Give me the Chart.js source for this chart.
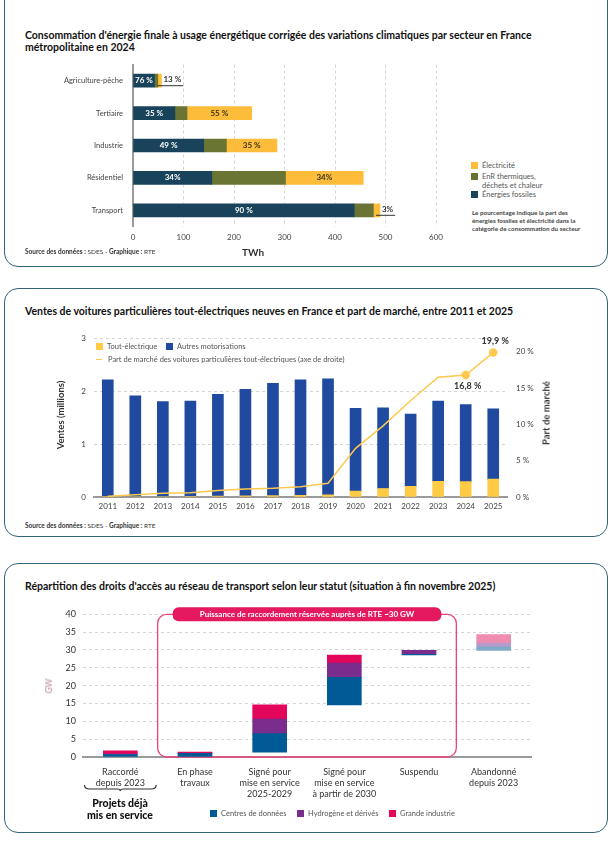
<!DOCTYPE html>
<html lang="fr">
<head>
<meta charset="utf-8">
<script src="https://cdn.jsdelivr.net/npm/chart.js@4.4.1/dist/chart.umd.min.js"></script>
<style>
  body { margin: 0; background: #fff; font-family: Lato, sans-serif; }
  .page { position: relative; width: 614px; height: 843px; overflow: hidden; }
  .card { position: absolute; left: 4px; width: 604px; border: 1.5px solid #33647a; border-radius: 14px; box-sizing: border-box; }
  .title { position: absolute; left: 25px; font-weight: 700; font-size: 10.5px; line-height: 12px; color: #111; white-space: nowrap; }
  .src { position: absolute; left: 25px; font-size: 6.5px; color: #333; white-space: nowrap; }
  .abs { position: absolute; white-space: nowrap; }
  .leg { position: absolute; font-size: 7.5px; color: #555; white-space: nowrap; line-height: 9px; }
  .sq { display: inline-block; width: 7px; height: 7px; vertical-align: -1px; margin-right: 4px; }
  .rot { position: absolute; transform: translate(-50%, -50%) rotate(-90deg); white-space: nowrap; font-weight: 700; }
  canvas { position: absolute; }
</style>
</head>
<body>
<div class="page">
  <!-- Carte 1 -->
  <div class="card" style="top:-14px;height:281px"></div>
  <div class="title" style="top:29px">Consommation d'énergie finale à usage énergétique corrigée des variations climatiques par secteur en France<br>métropolitaine en 2024</div>
  <canvas id="c1" width="460" height="200" style="left:0;top:50px"></canvas>
  <div class="abs" style="left:242px;top:246px;font-size:10px;font-weight:700;color:#333">TWh</div>
  <div class="src" style="top:248px"><b>Source des données :</b> SDES - <b>Graphique :</b> RTE</div>
  <div class="leg" style="left:471px;top:161px"><span class="sq" style="background:#fdbd3a"></span>Électricité</div>
  <div class="leg" style="left:471px;top:172px"><span class="sq" style="background:#6a7534"></span>EnR thermiques,<br><span style="margin-left:11px">déchets et chaleur</span></div>
  <div class="leg" style="left:471px;top:190px"><span class="sq" style="background:#18435b"></span>Énergies fossiles</div>
  <div class="leg" style="left:472px;top:209px;font-size:6.3px;line-height:7.8px;color:#444;font-weight:700">Le pourcentage indique la part des<br>énergies fossiles et électricité dans la<br>catégorie de consommation du secteur</div>

  <!-- Carte 2 -->
  <div class="card" style="top:288px;height:249px"></div>
  <div class="title" style="top:305px">Ventes de voitures particulières tout-électriques neuves en France et part de marché, entre 2011 et 2025</div>
  <canvas id="c2" width="510" height="190" style="left:50px;top:325px"></canvas>
  <div class="rot" style="left:60px;top:415px;font-size:9.5px;color:#333">Ventes (millions)</div>
  <div class="rot" style="left:546px;top:413px;font-size:9.5px;color:#333">Part de marché</div>
  <div class="leg" style="left:96px;top:342px"><span class="sq" style="background:#ffcb45"></span>Tout-électrique</div>
  <div class="leg" style="left:166px;top:342px"><span class="sq" style="background:#1f4aa0"></span>Autres motorisations</div>
  <div class="leg" style="left:96px;top:355px"><span style="display:inline-block;width:6px;height:1.5px;background:#fdc94e;vertical-align:2px;margin-right:6px"></span>Part de marché des voitures particulières tout-électriques (axe de droite)</div>
  <div class="src" style="top:522px"><b>Source des données :</b> SDES - <b>Graphique :</b> RTE</div>

  <!-- Carte 3 -->
  <div class="card" style="top:563px;height:270px"></div>
  <div class="title" style="top:580px">Répartition des droits d'accès au réseau de transport selon leur statut (situation à fin novembre 2025)</div>
  <canvas id="c3" width="494" height="207" style="left:40px;top:600px"></canvas>
  <div class="rot" style="left:49px;top:686px;font-size:8.5px;color:#c9a3b3">GW</div>
  <div class="abs" style="left:120px;top:797px;transform:translateX(-50%);text-align:center;font-size:10.5px;line-height:12px;font-weight:900;color:#111">Projets déjà<br>mis en service</div>
  <div class="leg" style="left:210px;top:809px"><span class="sq" style="background:#005a96"></span>Centres de données</div>
  <div class="leg" style="left:297px;top:809px"><span class="sq" style="background:#7b2d8e"></span>Hydrogène et dérivés</div>
  <div class="leg" style="left:389px;top:809px"><span class="sq" style="background:#e3075b"></span>Grande industrie</div>
</div>

<script>
Chart.defaults.font.family = 'Lato';
Chart.defaults.color = '#555';
Chart.defaults.animation = false;
Chart.defaults.plugins.legend.display = false;
Chart.defaults.plugins.tooltip.enabled = false;

// ---- Graphique 1 : consommation par secteur (TWh)
const sectors = ['Agriculture-pêche', 'Tertiaire', 'Industrie', 'Résidentiel', 'Transport'];
const fossiles = [42.5, 83, 140, 156, 438];
const enrChaleur = [6.5, 24, 45, 146, 38];
const electricite = [7.3, 128, 100, 154, 13];
const fossileLabels = ['76 %', '35 %', '49 %', '34%', '90 %'];
const elecLabels = ['13 %', '55 %', '35 %', '34%', '3%'];

// ---- Graphique 2 : ventes de voitures (millions) et part de marché (%)
const years = ['2011', '2012', '2013', '2014', '2015', '2016', '2017', '2018', '2019', '2020', '2021', '2022', '2023', '2024', '2025'];
const ventesElec = [0.004, 0.009, 0.009, 0.011, 0.017, 0.022, 0.025, 0.031, 0.043, 0.111, 0.162, 0.203, 0.298, 0.291, 0.34];
const ventesAutres = [2.22, 1.91, 1.80, 1.81, 1.93, 2.02, 2.13, 2.19, 2.20, 1.57, 1.53, 1.37, 1.52, 1.46, 1.33];
const partMarche = [0.1, 0.3, 0.5, 0.6, 0.9, 1.1, 1.2, 1.4, 1.9, 6.7, 9.8, 13.3, 16.5, 16.8, 19.9];
const partLabels = [null, null, null, null, null, null, null, null, null, null, null, null, null, '16,8 %', '19,9 %'];

// ---- Graphique 3 : droits d'accès (GW), en cascade
const statuts = [['Raccordé', 'depuis 2023'], ['En phase', 'travaux'], ['Signé pour', 'mise en service', '2025-2029'],
  ['Signé pour', 'mise en service', 'à partir de 2030'], ['Suspendu'], ['Abandonné', 'depuis 2023']];
const depart = [0, 0, 1.35, 14.6, 28.6, 29.9];
const centresDonnees = [0.7, 1.0, 5.2, 7.7, 0.2, 1.0];
const hydrogene = [0.15, 0, 4.1, 4.0, 1.1, 1.0];
const grandeIndustrie = [0.85, 0.35, 4.0, 2.3, 0, 2.4];

// Chart 1
const pctLabels = {
  id: 'pctLabels',
  afterDatasetsDraw(chart) {
    const ctx = chart.ctx;
    const fos = chart.getDatasetMeta(0).data;
    const ele = chart.getDatasetMeta(2).data;
    ctx.save();
    ctx.font = 'bold 8px Lato';
    ctx.textBaseline = 'middle';
    ctx.textAlign = 'center';
    fos.forEach((bar, i) => {
      ctx.fillStyle = '#fff';
      ctx.fillText(fossileLabels[i], (bar.x + bar.base) / 2, bar.y);
    });
    ele.forEach((bar, i) => {
      if (bar.x - bar.base > 30) {
        ctx.textAlign = 'center';
        ctx.fillStyle = '#3a3320';
        ctx.fillText(elecLabels[i], (bar.x + bar.base) / 2, bar.y);
      } else {
        ctx.textAlign = 'left';
        ctx.fillStyle = '#333';
        ctx.fillText(elecLabels[i], bar.x + 2, bar.y - 1);
        const w = ctx.measureText(elecLabels[i]).width;
        ctx.strokeStyle = '#333';
        ctx.lineWidth = 1;
        ctx.beginPath();
        ctx.moveTo(bar.x - 4, bar.y + 5);
        ctx.lineTo(bar.x + 4 + w, bar.y + 5);
        ctx.stroke();
      }
    });
    ctx.restore();
  }
};

new Chart(document.getElementById('c1'), {
  type: 'bar',
  data: {
    labels: sectors,
    datasets: [
      { label: 'Énergies fossiles', data: fossiles, backgroundColor: '#18435b' },
      { label: 'EnR thermiques, déchets et chaleur', data: enrChaleur, backgroundColor: '#6a7534' },
      { label: 'Électricité', data: electricite, backgroundColor: '#fdbd3a' }
    ]
  },
  options: {
    responsive: false,
    indexAxis: 'y',
    layout: { padding: { top: 11.5, right: 24 } },
    datasets: { bar: { barThickness: 13 } },
    scales: {
      x: {
        stacked: true, min: 0, max: 600,
        ticks: { stepSize: 100, padding: 6, color: '#444', font: { size: 8 } },
        grid: { drawTicks: false, color: c => c.tick.value === 0 ? 'rgba(0,0,0,0)' : '#d4d4d4' },
        border: { display: false, dash: [3, 3] },
        afterFit: s => { s.height = 23.5; }
      },
      y: {
        stacked: true,
        ticks: { padding: 10, color: '#444', font: { size: 7.5 } },
        grid: { display: false, drawTicks: false },
        border: { display: true, color: '#9a9a9a', width: 2 },
        afterFit: s => { s.width = 133; }
      }
    }
  },
  plugins: [pctLabels]
});

// Chart 2
const pointLabels = {
  id: 'pointLabels',
  afterDatasetsDraw(chart) {
    const ctx = chart.ctx;
    const pts = chart.getDatasetMeta(0).data;
    ctx.save();
    ctx.font = 'bold 9px Lato';
    ctx.fillStyle = '#333';
    ctx.textAlign = 'center';
    ctx.textBaseline = 'middle';
    pts.forEach((p, i) => {
      if (!partLabels[i]) return;
      const below = i < pts.length - 1;
      ctx.fillText(partLabels[i], p.x + 2, below ? p.y + 11 : p.y - 11);
    });
    ctx.restore();
  }
};

new Chart(document.getElementById('c2'), {
  type: 'bar',
  data: {
    labels: years,
    datasets: [
      { type: 'line', label: 'Part de marché', data: partMarche, yAxisID: 'y1', order: 0,
        borderColor: '#fdc94e', backgroundColor: '#fdc94e', borderWidth: 1.5,
        pointRadius: partLabels.map(l => l ? 3.5 : 0), tension: 0 },
      { label: 'Tout-électrique', data: ventesElec, backgroundColor: '#ffcb45', order: 1 },
      { label: 'Autres motorisations', data: ventesAutres, backgroundColor: '#1f4aa0', order: 1 }
    ]
  },
  options: {
    responsive: false,
    layout: { padding: { top: 8.7 } },
    datasets: { bar: { barThickness: 11 } },
    scales: {
      x: {
        stacked: true,
        ticks: { padding: 5, color: '#444', font: { size: 8 } },
        grid: { display: false, drawTicks: false },
        border: { display: true, color: '#9a9a9a', width: 2 },
        afterFit: s => { s.height = 18; }
      },
      y: {
        stacked: true, min: 0, max: 3,
        ticks: { stepSize: 1, padding: 8, color: '#444', font: { size: 8 } },
        grid: { drawTicks: false, color: c => c.tick.value === 0 ? 'rgba(0,0,0,0)' : '#d4d4d4' },
        border: { display: false, dash: [3, 3] },
        afterFit: s => { s.width = 44; }
      },
      y1: {
        position: 'right', min: 0, max: 21.8,
        ticks: { stepSize: 5, includeBounds: false, padding: 9, color: '#444', font: { size: 8 }, callback: v => v + ' %' },
        grid: { display: false, drawTicks: false },
        border: { display: false },
        afterFit: s => { s.width = 53; }
      }
    }
  },
  plugins: [pointLabels]
});

// Chart 3
const cascade = (() => {
  const dc = [], h2 = [], gi = [];
  depart.forEach((b, i) => {
    const a = b + centresDonnees[i];
    const c = a + hydrogene[i];
    dc.push([b, a]);
    h2.push([a, c]);
    gi.push([c, c + grandeIndustrie[i]]);
  });
  return { dc, h2, gi };
})();

const lastLight = (dark, light) => statuts.map((s, i) => i === statuts.length - 1 ? light : dark);

const cadre = {
  id: 'cadre',
  beforeDatasetsDraw(chart) {
    const { ctx, scales: { x, y } } = chart;
    const x0 = x.getPixelForValue(0.5), x1 = x.getPixelForValue(4.5);
    const y0 = y.getPixelForValue(40), y1 = y.getPixelForValue(0);
    ctx.save();
    ctx.strokeStyle = '#e8467a';
    ctx.lineWidth = 1.3;
    ctx.beginPath();
    ctx.roundRect(x0, y0, x1 - x0, y1 - y0, 9);
    ctx.stroke();
    ctx.restore();
  },
  afterDatasetsDraw(chart) {
    const { ctx, scales: { x, y } } = chart;
    const x0 = x.getPixelForValue(0.5) + 15, x1 = x.getPixelForValue(4.5) - 15;
    const yc = y.getPixelForValue(40);
    ctx.save();
    ctx.fillStyle = '#e5195f';
    ctx.beginPath();
    ctx.roundRect(x0, yc - 7, x1 - x0, 14, 6);
    ctx.fill();
    ctx.fillStyle = '#fff';
    ctx.font = 'bold 8px Lato';
    ctx.textAlign = 'center';
    ctx.textBaseline = 'middle';
    ctx.fillText('Puissance de raccordement réservée auprès de RTE ~30 GW', (x0 + x1) / 2, yc + 0.5);
    // accolade sous la première catégorie
    const cx = x.getPixelForValue(0), hw = (x.getPixelForValue(1) - cx) * 0.48;
    const by = y.getPixelForValue(0) + 32;
    ctx.strokeStyle = '#333';
    ctx.lineWidth = 1.2;
    ctx.beginPath();
    ctx.moveTo(cx - hw, by - 4);
    ctx.quadraticCurveTo(cx - hw, by, cx - hw + 5, by);
    ctx.lineTo(cx - 3, by);
    ctx.quadraticCurveTo(cx, by, cx, by + 2);
    ctx.quadraticCurveTo(cx, by, cx + 3, by);
    ctx.lineTo(cx + hw - 5, by);
    ctx.quadraticCurveTo(cx + hw, by, cx + hw, by - 4);
    ctx.stroke();
    ctx.restore();
  }
};

new Chart(document.getElementById('c3'), {
  type: 'bar',
  data: {
    labels: statuts,
    datasets: [
      { label: 'Centres de données', data: cascade.dc, backgroundColor: lastLight('#005a96', '#7fabc9') },
      { label: 'Hydrogène et dérivés', data: cascade.h2, backgroundColor: lastLight('#7b2d8e', '#b99acb') },
      { label: 'Grande industrie', data: cascade.gi, backgroundColor: lastLight('#e3075b', '#ef8cb0') }
    ]
  },
  options: {
    responsive: false,
    layout: { padding: { top: 14.3, right: 3 } },
    datasets: { bar: { barThickness: 34 } },
    scales: {
      x: {
        stacked: true,
        ticks: { padding: 9, color: '#333', font: { size: 9, lineHeight: 1.25 } },
        grid: { display: false, drawTicks: false },
        border: { display: true, color: '#9a9a9a', width: 2 },
        afterFit: s => { s.height = 50; }
      },
      y: {
        stacked: false, min: 0, max: 40,
        ticks: { stepSize: 5, padding: 7, color: '#333', font: { size: 9 } },
        grid: { drawTicks: false, color: c => c.tick.value === 0 ? 'rgba(0,0,0,0)' : '#d4d4d4' },
        border: { display: false, dash: [3, 3] },
        afterFit: s => { s.width = 43; }
      }
    }
  },
  plugins: [cadre]
});
</script>
</body>
</html>
